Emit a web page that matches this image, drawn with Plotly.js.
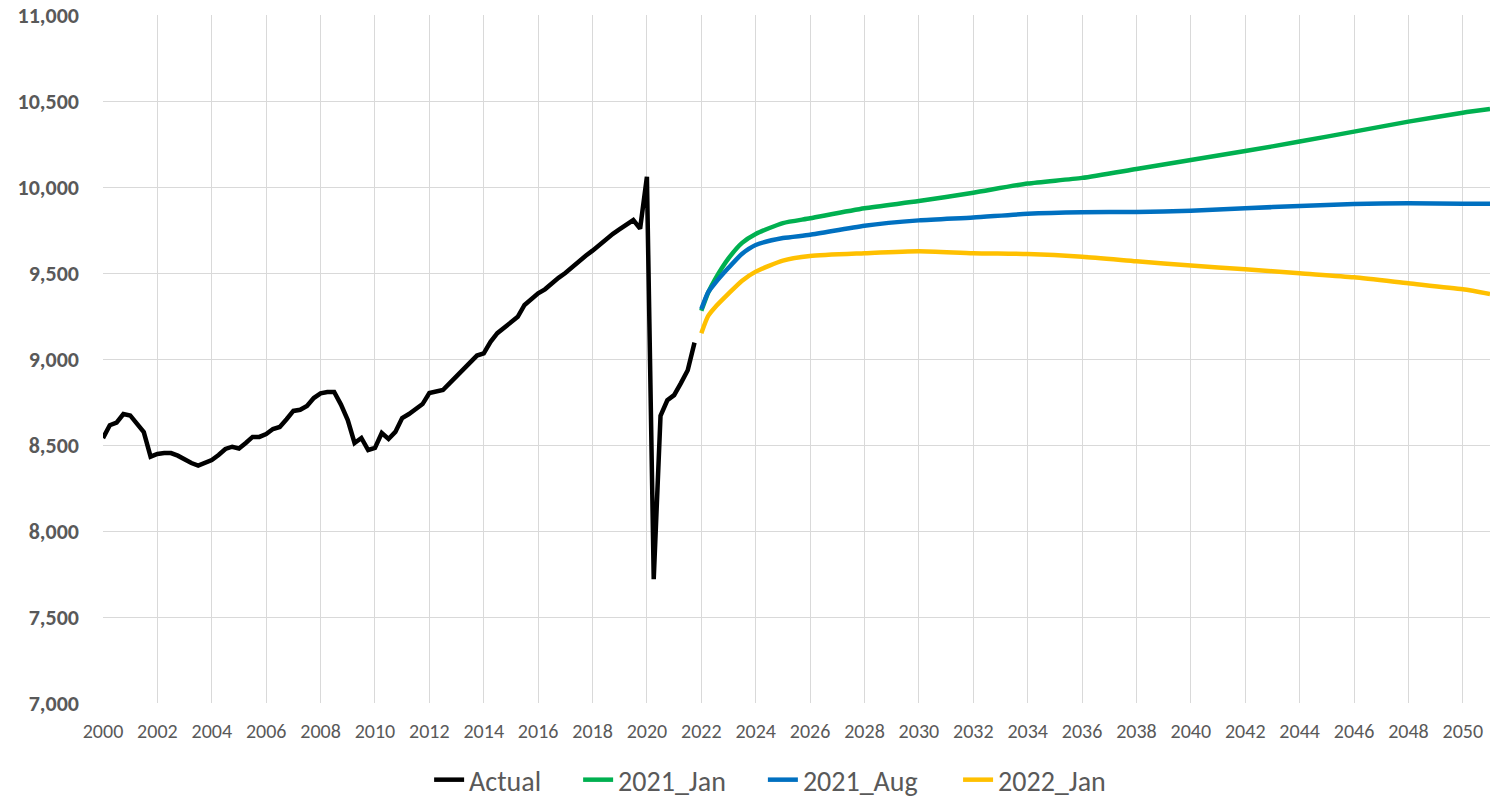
<!DOCTYPE html>
<html>
<head>
<meta charset="utf-8">
<script src="https://cdn.plot.ly/plotly-3.0.1.min.js"></script>
<style>
  html, body { margin: 0; padding: 0; background: #ffffff; }
  #chart { width: 1490px; height: 798px; }
</style>
</head>
<body>
<div id="chart"></div>
<script>
// ---- Data ----
const actualStartYear = 2000;
// Quarterly actual values, 2000Q1 .. 2021Q4
const actualValues = [
  8540, 8615, 8630, 8680,
  8672, 8625, 8575, 8432,
  8448, 8453, 8453, 8438,
  8415, 8395, 8380, 8395,
  8413, 8442, 8477, 8490,
  8480, 8512, 8547, 8547,
  8564, 8593, 8605, 8650,
  8698, 8705, 8727, 8773,
  8800, 8808, 8808, 8735,
  8645, 8512, 8541, 8471,
  8483, 8570, 8535, 8576,
  8657, 8680, 8709, 8738,
  8802, 8808, 8820, 8860,
  8900, 8945, 8985, 9020,
  9033, 9100, 9150, 9180,
  9210, 9245, 9314, 9350,
  9382, 9405, 9440, 9472,
  9500, 9535, 9565, 9600,
  9630, 9665, 9700, 9728,
  9755, 9779, 9808, 9758,
  10060, 7720, 8670, 8760,
  8790, 8860, 8935, 9095
];

const forecastYears = [2022, 2022.25, 2022.5, 2023, 2023.5, 2024, 2025, 2026, 2028, 2030, 2032, 2034, 2036, 2038, 2040, 2042, 2044, 2046, 2048, 2050, 2051];
const jan2021 = [9280, 9385, 9462, 9585, 9675, 9727, 9790, 9818, 9876, 9918, 9967, 10020, 10053, 10105, 10157, 10209, 10264, 10322, 10380, 10432, 10453];
const aug2021 = [9290, 9388, 9440, 9530, 9612, 9663, 9703, 9722, 9775, 9806, 9823, 9844, 9853, 9855, 9862, 9876, 9890, 9901, 9905, 9903, 9903];
const jan2022 = [9150, 9250, 9300, 9380, 9455, 9508, 9572, 9599, 9615, 9627, 9615, 9610, 9594, 9568, 9543, 9522, 9498, 9475, 9440, 9405, 9378];

const seriesNames = ["Actual", "2021_Jan", "2021_Aug", "2022_Jan"];
const seriesColors = ["#000000", "#00B050", "#0070C0", "#FFC000"];

const xTickVals = [];
for (let y = 2000; y <= 2050; y += 2) xTickVals.push(y);
const yTickVals = [7000, 7500, 8000, 8500, 9000, 9500, 10000, 10500, 11000];

// ---- Build traces ----
const actualYears = actualValues.map((_, i) => actualStartYear + i / 4);
const FONT = "Carlito, Calibri, Lato, sans-serif";
const legendIds = ["legend", "legend2", "legend3", "legend4"];
const legendX = [0.288, 0.388, 0.512, 0.643];

const xs = [actualYears, forecastYears, forecastYears, forecastYears];
const ys = [actualValues, jan2021, aug2021, jan2022];

const traces = seriesNames.map((name, i) => {
  const line = { color: seriesColors[i], width: 4.5 };
  if (i > 0) { line.shape = "spline"; line.smoothing = 0.6; }
  return { x: xs[i], y: ys[i], name: name, type: "scatter", mode: "lines",
           line: line, legend: legendIds[i] };
});

const layout = {
  width: 1490, height: 798,
  margin: { l: 103, r: 0, t: 15, b: 95 },
  paper_bgcolor: "#ffffff",
  plot_bgcolor: "#ffffff",
  font: { family: FONT, color: "#595959" },
  showlegend: true,
  xaxis: {
    range: [2000, 2051], automargin: false,
    tickmode: "array", tickvals: xTickVals, ticktext: xTickVals.map(String),
    showgrid: true, gridcolor: "#D9D9D9", gridwidth: 1,
    zeroline: false, showline: false, ticks: "",
    ticklabelstandoff: 14,
    tickfont: { family: FONT, size: 20, color: "#595959" }
  },
  yaxis: {
    range: [7000, 11000], automargin: false,
    tickmode: "array", tickvals: yTickVals,
    ticktext: yTickVals.map(v => v.toLocaleString("en-US")),
    showgrid: true, gridcolor: "#D9D9D9", gridwidth: 1,
    zeroline: false, showline: false, ticks: "",
    ticklabelstandoff: 23,
    tickfont: { family: FONT, size: 22, color: "#595959", weight: "bold" }
  }
};

legendIds.forEach((id, i) => {
  layout[id] = {
    orientation: "h", xref: "container", yref: "container",
    x: legendX[i], xanchor: "left", y: 0.0226, yanchor: "middle",
    font: { family: FONT, size: 28, color: "#595959" },
    itemwidth: 30, bgcolor: "rgba(0,0,0,0)"
  };
});

Plotly.newPlot("chart", traces, layout, { displayModeBar: false, staticPlot: true });
</script>
</body>
</html>
